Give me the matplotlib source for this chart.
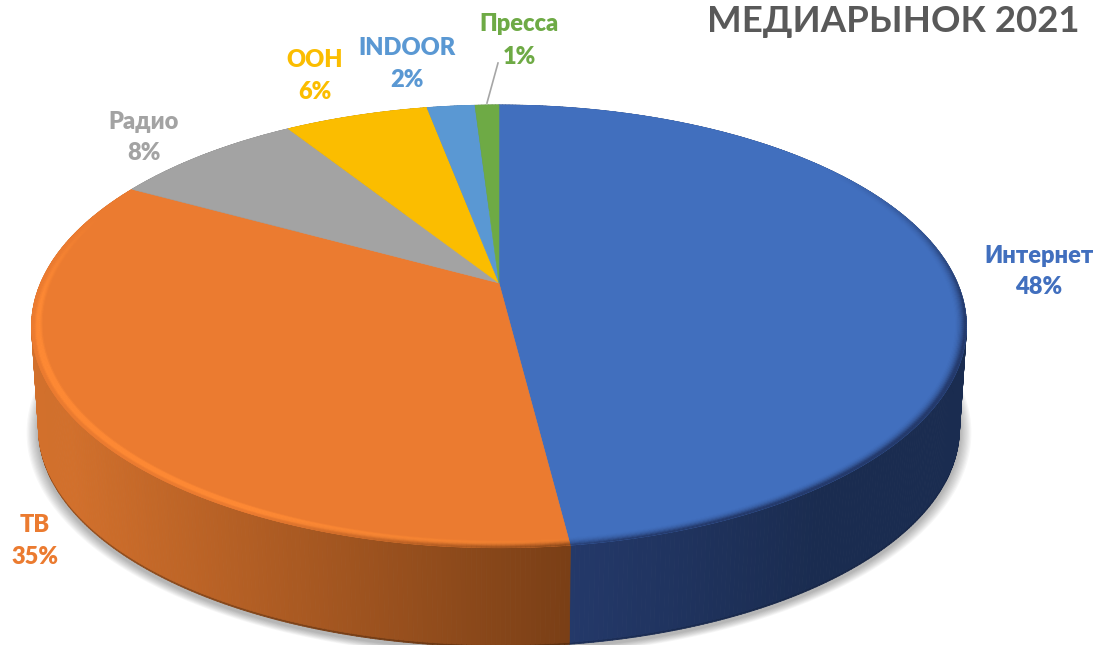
import numpy as np
import matplotlib
matplotlib.use("Agg")
import matplotlib.pyplot as plt
from matplotlib.collections import PolyCollection
from matplotlib.colors import to_rgb

#########################################
#DATA
#########################################
labels=["Интернет","ТВ","Радио","OOH","INDOOR","Пресса"]
values=[48,35,8,6,2,1]
pct_labels=["48%","35%","8%","6%","2%","1%"]
title="МЕДИАРЫНОК 2021"

#########################################
#STYLE
#########################################
plt.rcParams['font.family']=['Lato','Noto Sans','DejaVu Sans']
colors=["#416FBE","#EB7B30","#A3A3A3","#FBBD00","#5A98D3","#6EAA45"]
hilite=["#416FBE","#FF8A35","#A3A3A3","#FBBD00","#5A98D3","#6EAA45"]
side_near=["#24396A","#7A3F16","#707070","#A07800","#3A6A9A","#4A7530"]
side_far=["#1A2C50","#D2702C","#707070","#A07800","#3A6A9A","#4A7530"]
label_xy=[(1039,256),(35,525),(144,122),(315,60),(407,48),(519,24)]
pct_xy=[(1039,287),(35,557),(144,153),(315,92),(407,80),(519,57)]
fsize=17

#PIE GEOMETRY (pixels)
cx,cy=499.,283.
A,B,k=458.4,212.9,0.196
scale_bot,cy_bot=0.985,386.

def rim(theta,r=1.0,s=1.0,y0=cy):
    # theta clockwise from the top, perspective of a flat disc
    u=r*np.sin(theta)
    v=r*np.cos(theta)
    w=1+k*v
    return cx+s*A*u/w,y0-s*B*v/w

def mix(c1,c2,t):
    c1=np.array(to_rgb(c1))
    c2=np.array(to_rgb(c2))
    return tuple(c1+(c2-c1)*t)

#########################################
#INITIALIZE FIGURE
#########################################
fig=plt.figure(figsize=(10.99,6.45),dpi=100)
ax=fig.add_axes([0,0,1,1],xlim=(0,1099),ylim=(645,0))
ax.axis('off')

edges=2*np.pi*np.cumsum([0]+values)/sum(values)

#########################################
#SHADOW
#########################################
t=np.linspace(0,2*np.pi,361)
for i in range(10):
    x,y=rim(t,s=scale_bot*(1.026-0.0026*i),y0=cy_bot+3)
    ax.fill(x,y,color='k',alpha=0.03,lw=0,zorder=1)

#########################################
#SIDE WALL
#########################################
polys=[]
fc=[]
order=[]
xnear,_=rim(edges[1])
for i in range(len(values)):
    n=max(int((edges[i+1]-edges[i])/(2*np.pi)*720),2)
    th=np.linspace(edges[i],edges[i+1],n+1)
    xt,yt=rim(th)
    xb,yb=rim(th,s=scale_bot,y0=cy_bot)
    for j in range(n):
        f=min(abs(xt[j]-xnear)/(500. if i==1 else 250.),1)
        c=mix(side_near[i],side_far[i],f)
        # wall body, and a thin darker line along its lower edge
        xm0,ym0=xb[j]+0.02*(xt[j]-xb[j]),yb[j]+0.02*(yt[j]-yb[j])
        xm1,ym1=xb[j+1]+0.02*(xt[j+1]-xb[j+1]),yb[j+1]+0.02*(yt[j+1]-yb[j+1])
        polys.append([(xt[j],yt[j]),(xt[j+1],yt[j+1]),(xm1,ym1),(xm0,ym0)])
        fc.append(c)
        order.append(-yb[j])
        polys.append([(xm0,ym0),(xm1,ym1),(xb[j+1],yb[j+1]),(xb[j],yb[j])])
        fc.append(mix(c,"#2A1505" if i==1 else "#101C36",0.35))
        order.append(-yb[j]+0.001)
idx=np.argsort(order)[::-1]
polys=[polys[i] for i in idx]
fc=[fc[i] for i in idx]
ax.add_collection(PolyCollection(polys,facecolors=fc,edgecolors=fc,linewidths=0.6,zorder=2))

#########################################
#TOP OF THE PIE
#########################################
for i in range(len(values)):
    th=np.linspace(edges[i],edges[i+1],200)
    x,y=rim(th)
    ax.fill(np.r_[cx,x],np.r_[cy,y],color=colors[i],lw=0.4,zorder=3)

#########################################
#BEVEL ALONG THE RIM
#########################################
rings=np.linspace(0.975,1.0,11)
polys=[]
fc=[]
for i in range(len(values)):
    n=max(int((edges[i+1]-edges[i])/(2*np.pi)*720),2)
    th=np.linspace(edges[i],edges[i+1],n+1)
    for q in range(len(rings)-1):
        xi,yi=rim(th,r=rings[q])
        xo,yo=rim(th,r=rings[q+1])
        tt=(q+0.5)/(len(rings)-1)
        for j in range(n):
            mid=0.5*(th[j]+th[j+1])
            u,v=np.sin(mid),np.cos(mid)
            h=np.clip(0.6-u,0,1)*np.clip((0.35-v)*1.5,0,1)*np.sin(np.pi*min(tt*1.1,1))**2
            d=np.clip(u+0.45,0,1)*np.clip(0.6-v,0,1)*tt**2*1.6
            c=mix(colors[i],hilite[i],min(h*1.6,1))
            c=mix(c,side_near[i],min(d,1))
            polys.append([(xi[j],yi[j]),(xi[j+1],yi[j+1]),(xo[j+1],yo[j+1]),(xo[j],yo[j])])
            fc.append(c)
ax.add_collection(PolyCollection(polys,facecolors=fc,edgecolors=fc,linewidths=0.3,zorder=4))

#########################################
#LABELS
#########################################
x0,y0=rim(0.5*(edges[5]+edges[6]))
ax.plot([x0,498],[y0-2,63],color="#A6A6A6",lw=1.2,zorder=5)
for i in range(len(values)):
    ax.text(label_xy[i][0],label_xy[i][1],labels[i],color=colors[i],fontsize=fsize,
            fontweight='heavy',ha='center',va='center',zorder=6)
    ax.text(pct_xy[i][0],pct_xy[i][1],pct_labels[i],color=colors[i],fontsize=fsize,
            fontweight='heavy',ha='center',va='center',zorder=6)
ax.text(893,22,title,color="#595959",fontsize=26.4,fontweight='bold',ha='center',va='center',zorder=6)

#########################################
#SAVE FIGURE
#########################################
fig.savefig("out.png",dpi=100)
